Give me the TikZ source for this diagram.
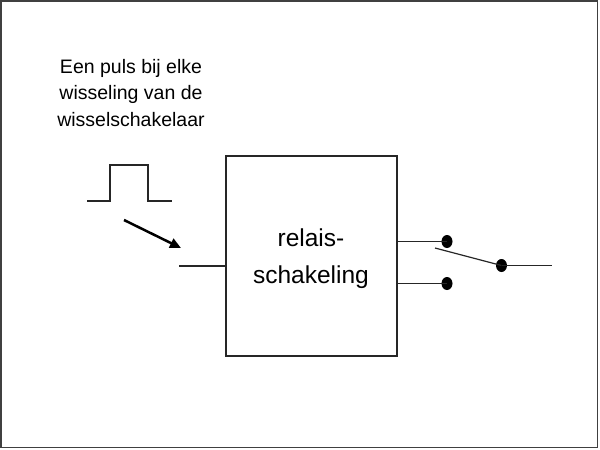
\documentclass[tikz,border=0pt]{standalone}
\usepackage{fontspec}
\setmainfont{Liberation Sans}
\usetikzlibrary{arrows.meta,shapes.geometric}
\begin{document}
\begin{tikzpicture}[x=1pt,y=-1pt,
  wire/.style={line width=1.2pt,draw=black!85},
  dotnode/.style={ellipse,fill=black,inner sep=0pt,minimum width=11pt,minimum height=13pt},
  blockbox/.style={draw=black!85,line width=1.2pt,minimum width=171pt,minimum height=200pt,inner sep=0pt}]
\useasboundingbox (0,0) rectangle (600,450);
\draw[line width=1.5pt,draw=black!75] (1,1) rectangle (597.5,447.5);
% caption
\node[align=center,font=\fontsize{19.5}{26.5}\selectfont,inner sep=0pt] (cap) at (131,93)
  {Een puls bij elke\\wisseling van de\\wisselschakelaar};
% pulse
\coordinate (p0) at (87,201);
\coordinate (p1) at (110,201);
\coordinate (p2) at (110,165);
\coordinate (p3) at (148,165);
\coordinate (p4) at (148,201);
\coordinate (p5) at (172,201);
\draw[wire] (p0) -- (p1) -- (p2) -- (p3) -- (p4) -- (p5);
% arrow
\coordinate (a0) at (124,220);
\coordinate (a1) at (181,248);
\draw[line width=2.5pt,-{Triangle[length=11pt,width=10pt]}] (a0) -- (a1);
% box
\node[blockbox] (box) at (311.5,256) {};
\node[align=center,font=\fontsize{24.5}{37}\selectfont,inner sep=0pt] (lbl) at (311,259) {relais-\\schakeling};
% input
\coordinate (in) at (179,266);
\draw[wire] (in) -- (in -| box.west);
% outputs
\node[dotnode] (d1) at (447,241.5) {};
\node[dotnode] (d2) at (447,283.5) {};
\node[dotnode] (d3) at (501.5,265.5) {};
\draw[wire] (d1 -| box.east) -- (d1.center);
\draw[wire] (d2 -| box.east) -- (d2.center);
\coordinate (lev) at (435,248);
\draw[wire] (lev) -- (d3.center);
\coordinate (out) at (552,265.5);
\draw[wire] (d3.center) -- (out);
\end{tikzpicture}
\end{document}
